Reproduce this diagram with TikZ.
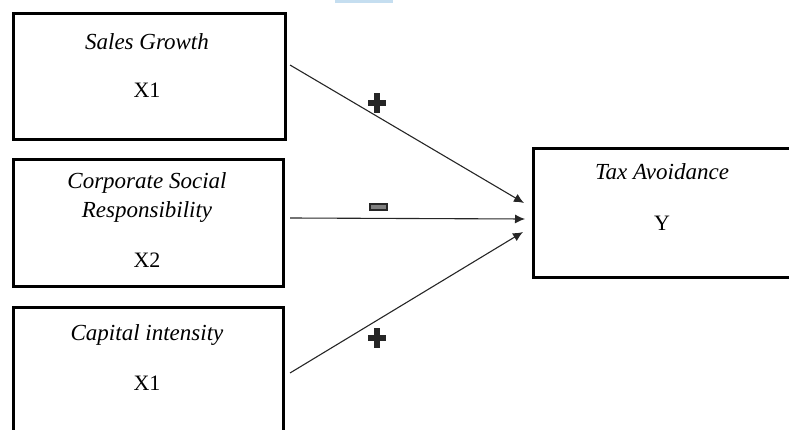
\documentclass[tikz,border=0pt]{standalone}
\usepackage{fontspec}
\setmainfont{Liberation Serif}
\usetikzlibrary{arrows.meta,calc}
\definecolor{artblue}{RGB}{197,222,240}
\begin{document}
\begin{tikzpicture}[x=1pt,y=-1pt,
  boxstyle/.style={draw=black,line width=3pt,rectangle,inner sep=0pt,anchor=north west},
  lbl/.style={font=\fontsize{23}{26}\selectfont\itshape,inner sep=0pt},
  code/.style={font=\fontsize{22}{26}\selectfont,inner sep=0pt},
  conn/.style={draw=black!85,line width=1.1pt,-{Latex[length=10pt,width=9pt]}},
  signfill/.style={fill=black!85}
]
\useasboundingbox (0,0) rectangle (789,430);
\clip (0,0) rectangle (789,430);
\fill[artblue] (335,-2) rectangle (393,3);
% boxes
\node[boxstyle,minimum width=272pt,minimum height=126pt] (b1) at (12,12) {};
\node[boxstyle,minimum width=270pt,minimum height=127pt] (b2) at (12,158) {};
\node[boxstyle,minimum width=270pt,minimum height=160pt] (b3) at (12,306) {};
\node[boxstyle,minimum width=280pt,minimum height=129pt] (ty) at (532,147) {};
% texts
\node[lbl] (t1) at (147,42) {Sales Growth};
\node[code] (c1) at (147,90) {X1};
\node[lbl] (t2a) at (147,183) {Corporate Social};
\node[lbl] (t2b) at (147,212) {Responsibility};
\node[code] (c2) at (147,260) {X2};
\node[lbl] (t3) at (147,335) {Capital intensity};
\node[code] (c3) at (147,383) {X1};
\node[lbl] (ta) at (662,172) {Tax Avoidance};
\node[code] (cy) at (662,223) {Y};
% connector endpoints
\coordinate (s1) at (290,65);
\coordinate (s2) at (290,218);
\coordinate (s3) at (290,373);
\coordinate (e1) at (524,203);
\coordinate (e2) at (525,219);
\coordinate (e3) at (523,232);
\draw[conn] (s1) -- (e1);
\draw[conn] (s2) -- (e2);
\draw[conn] (s3) -- (e3);
% signs
\coordinate (p1) at (377,103);
\coordinate (p2) at (377,338);
\foreach \p in {p1,p2}{
  \fill[signfill] ($(\p)+(-9,-3)$) rectangle ($(\p)+(9,3)$);
  \fill[signfill] ($(\p)+(-3,-10)$) rectangle ($(\p)+(3,10)$);
}
\node[draw=black!85,fill=black!50,line width=2pt,minimum width=17pt,minimum height=6pt,inner sep=0pt] (m) at (378,207) {};
\end{tikzpicture}
\end{document}
